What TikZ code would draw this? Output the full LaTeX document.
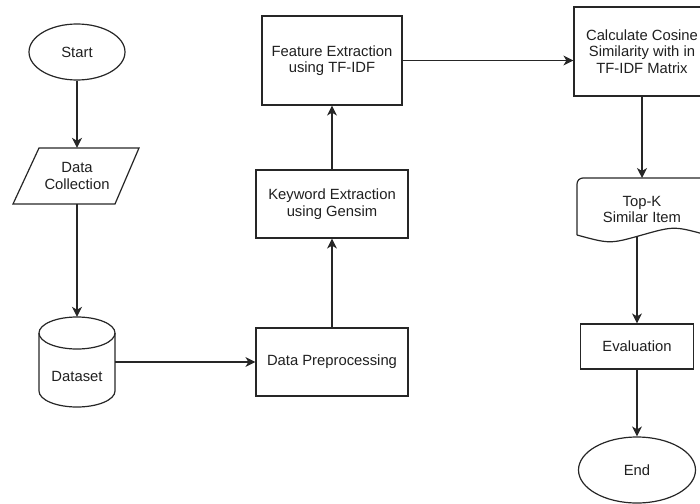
\documentclass[tikz,border=0pt]{standalone}
\usepackage{fontspec}
\setmainfont{Liberation Sans}
\usetikzlibrary{shapes.geometric,arrows.meta}
\newcommand\diagfont{\fontsize{14.8}{16.5}\selectfont}
\begin{document}
\begin{tikzpicture}[x=1pt,y=-1pt,
  shapeline/.style={draw=black!85, line width=1.2pt},
  box/.style={shapeline, rectangle, align=center, font=\diagfont, text=black!88, inner sep=0pt},
  oval/.style={shapeline, ellipse, align=center, font=\diagfont, text=black!88, inner sep=0pt},
  txt/.style={align=center, font=\diagfont, text=black!88, inner sep=0pt},
  link/.style={draw=black!85, line width=1.2pt, -{Stealth[length=10pt,width=10pt,inset=3pt]}}]
\useasboundingbox (0,0) rectangle (700,503);
\clip (0,0) rectangle (700,503);

% Start
\node[oval, minimum width=96, minimum height=56] (start) at (77,52) {Start};

% Data Collection (parallelogram)
\draw[shapeline] (39,148) -- (139,148) -- (115,204) -- (13,204) -- cycle;
\node[txt, minimum width=76, minimum height=56] (dc) at (77,176) {Data\\Collection};

% Dataset (cylinder)
\draw[shapeline] (39,333) -- (39,391) arc[start angle=180, end angle=0, x radius=38, y radius=16] -- (115,333);
\draw[shapeline] (77,333) ellipse [x radius=38, y radius=16];
\node[minimum width=76, minimum height=90, inner sep=0pt] (ds) at (77,362) {};
\node[txt] (dstext) at (77,376) {Dataset};

% Middle column
\node[box, minimum width=152, minimum height=68] (dp) at (332,362) {Data Preprocessing};
\node[box, minimum width=152, minimum height=68] (ke) at (332,204) {Keyword Extraction\\using Gensim};
\node[box, minimum width=140, minimum height=89] (fe) at (332,60.5) {Feature Extraction\\using TF-IDF};

% Right column
\node[box, minimum width=136, minimum height=89] (calc) at (642,51.5) {Calculate Cosine\\Similarity with in\\TF-IDF Matrix};

% Top-K (document shape)
\draw[shapeline, rounded corners=6pt] (577,235) -- (577,178) -- (707,178) -- (707,200);
\draw[shapeline] (707,199) -- (707,235) .. controls (674,226) .. (642,235) .. controls (610,244) .. (577,235);
\node[txt] (topk) at (642,209.5) {Top-K\\Similar Item};
\coordinate (topktop) at (642,178);
\coordinate (topkbot) at (637,236);

\node[box, minimum width=113, minimum height=45] (eval) at (637,346.5) {Evaluation};
\node[oval, minimum width=117, minimum height=66] (end) at (637,470) {End};

% Connectors
\draw[link] (start) -- (dc.north);
\draw[link] (dc.south) -- (ds.north);
\draw[link] (ds.east) -- (dp.west);
\draw[link] (dp) -- (ke);
\draw[link] (ke) -- (fe);
\draw[link] (fe.east) -- (fe.east -| calc.west);
\draw[link] (calc.south) -- (topktop);
\draw[link] (topkbot) -- (eval.north);
\draw[link] (eval) -- (end);
\end{tikzpicture}
\end{document}
